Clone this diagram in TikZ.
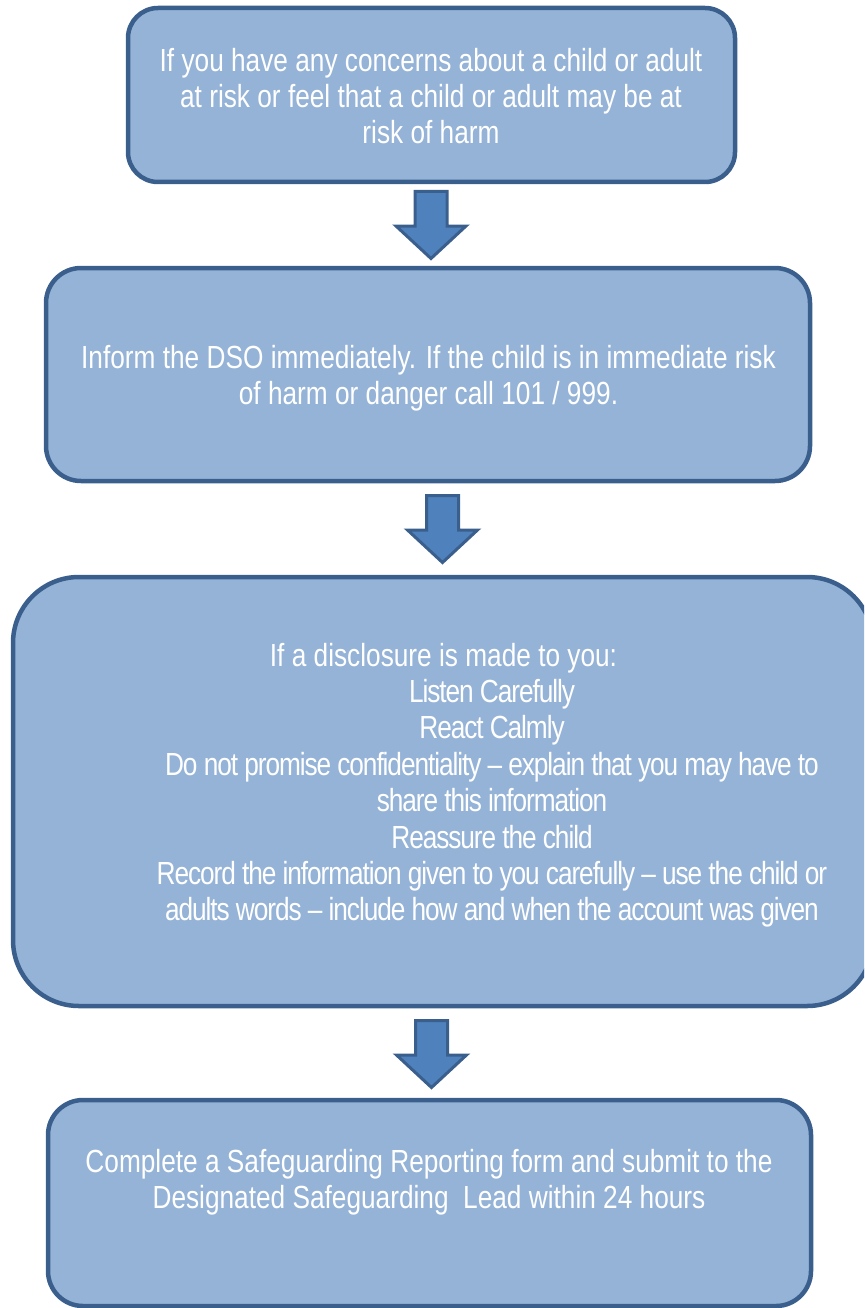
\documentclass[tikz,border=0pt]{standalone}
\usepackage{fontspec}
\setmainfont{Liberation Sans}[FakeStretch=0.82]
\newfontfamily\condfont{Liberation Sans}[FakeStretch=0.82, LetterSpace=-3.35]
\definecolor{boxfill}{HTML}{95B3D7}
\definecolor{boxline}{HTML}{3A5F8D}
\definecolor{arrfill}{HTML}{4F81BD}
\definecolor{arrline}{HTML}{3A5F8D}
\tikzset{
  flowbox/.style={draw=boxline, fill=boxfill, line width=4.5pt, inner sep=0pt, outer sep=0pt},
  flowtext/.style={text=white, align=center, inner sep=0pt, anchor=north,
    font=\fontsize{32}{36.4}\selectfont},
  blockarrow/.style={draw=arrline, fill=arrfill, line width=3pt, line join=miter}
}
\begin{document}
\begin{tikzpicture}[x=1pt,y=-1pt]
\useasboundingbox (0,0) rectangle (864,1308);
\clip (0,0) rectangle (864,1308);
% boxes
\node[flowbox, rounded corners=30pt, minimum width=607pt, minimum height=174pt] (b1) at (431.5,95) {};
\node[flowbox, rounded corners=35pt, minimum width=764pt, minimum height=213pt] (b2) at (428,374.5) {};
\node[flowbox, rounded corners=66pt, minimum width=860pt, minimum height=429pt] (b3) at (443,791.5) {};
\node[flowbox, rounded corners=35pt, minimum width=763pt, minimum height=206pt] (b4) at (429.5,1203) {};
% texts
\node[flowtext] (t1) at (431,47.7) {If you have any concerns about a child or adult\\at risk or feel that a child or adult may be at\\risk of harm};
\node[flowtext] (t2) at (428.5,344.7) {Inform the DSO immediately. If the child is in immediate risk\\of harm or danger call 101 / 999.};
\node[flowtext] (t3) at (492,642.7) {If a disclosure is made to you:\hspace*{97pt}\\\condfont Listen Carefully\\\condfont React Calmly\\\condfont Do not promise confidentiality – explain that you may have to\\\condfont share this information\\\condfont Reassure the child\\\condfont Record the information given to you carefully – use the child or\\\condfont adults words – include how and when the account was given};
\node[flowtext] (t4) at (429,1148.7) {Complete a Safeguarding Reporting form and submit to the\\Designated Safeguarding~ Lead within 24 hours};
% block arrows
\coordinate (a1) at (431,191.5);
\coordinate (a2) at (442.5,495.5);
\coordinate (a3) at (431.5,1020.5);
\foreach \a in {a1,a2,a3}{
  \draw[blockarrow] ([xshift=-16pt]\a) -- ([xshift=16pt]\a) -- ([xshift=16pt,yshift=-34.5pt]\a)
    -- ([xshift=35pt,yshift=-34.5pt]\a) -- ([yshift=-67pt]\a) -- ([xshift=-35pt,yshift=-34.5pt]\a)
    -- ([xshift=-16pt,yshift=-34.5pt]\a) -- cycle;
}
\end{tikzpicture}
\end{document}
